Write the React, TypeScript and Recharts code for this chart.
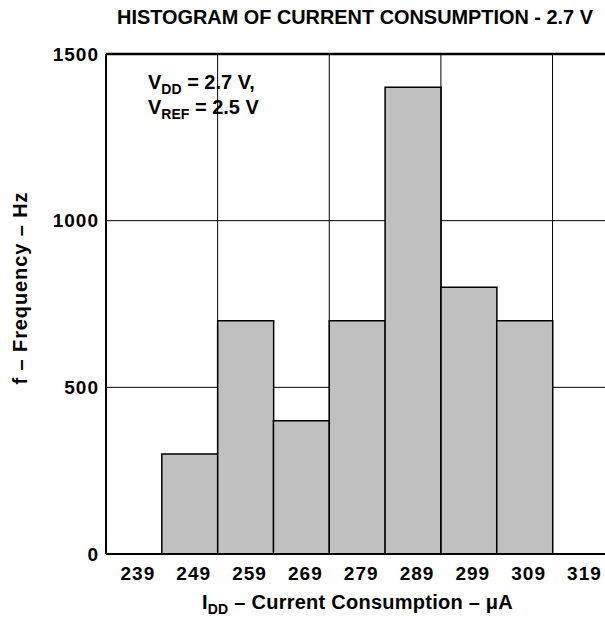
import React from 'react';
import { BarChart, Bar, XAxis, YAxis, CartesianGrid, ReferenceLine, Customized } from 'recharts';

// histogram bins (uA) and counts (Hz)
const bins = [239, 249, 259, 269, 279, 289, 299, 309, 319];
const counts = [0, 300, 700, 400, 700, 1400, 800, 700, 0];
const yTicks = [0, 500, 1000, 1500];
// vertical grid sits on every other bin edge
const gridEdges = [254, 274, 294, 314];
// right edge of the plot is cut by the page, a bit short of 324
const xDomain = [234, 323.4];

const data = bins.map((b, i) => ({ bin: b, count: counts[i] }));

const FONT = '"Liberation Sans", Arial, Helvetica, sans-serif';

const Texts = () => (
  <g fontFamily={FONT} fontWeight="bold" fill="#000">
    <text x={355} y={24} fontSize={19.9} textAnchor="middle">
      HISTOGRAM OF CURRENT CONSUMPTION - 2.7 V
    </text>
    <text x={148} y={89} fontSize={20}>
      V<tspan fontSize={14} dy={5}>DD</tspan>
      <tspan dy={-5}> = 2.7 V,</tspan>
    </text>
    <text x={148} y={114} fontSize={20}>
      V<tspan fontSize={14} dy={5}>REF</tspan>
      <tspan dy={-5}> = 2.5 V</tspan>
    </text>
    <text x={357.5} y={609} fontSize={20} letterSpacing={0.25} textAnchor="middle">
      I<tspan fontSize={14} dy={5}>DD</tspan>
      <tspan dy={-5}> – Current Consumption – μA</tspan>
    </text>
    <text
      x={27}
      y={288}
      fontSize={20}
      letterSpacing={0.9}
      textAnchor="middle"
      transform="rotate(-90 27 288)"
    >
      f – Frequency – Hz
    </text>
  </g>
);

export default function App() {
  const tickStyle = { fontFamily: FONT, fontWeight: 'bold', fontSize: 19, letterSpacing: 1, fill: '#000' };
  return (
    <div style={{ position: 'absolute', left: 0, top: 0, width: 605, height: 620, overflow: 'hidden', background: '#fff' }}>
      <BarChart
        width={605}
        height={620}
        data={data}
        barCategoryGap={0}
        margin={{ top: 54, right: 0, bottom: 36, left: 46 }}
      >
        <XAxis
          xAxisId="x"
          type="number"
          dataKey="bin"
          domain={xDomain}
          ticks={bins}
          interval={0}
          allowDataOverflow
          height={30}
          tickSize={0}
          tickMargin={13}
          tickLine={false}
          axisLine={{ stroke: '#000', strokeWidth: 2 }}
          tick={{ ...tickStyle, dx: 4 }}
        />
        <YAxis
          width={60}
          domain={[0, 1500]}
          ticks={yTicks}
          tickSize={0}
          tickMargin={7}
          tickLine={false}
          axisLine={{ stroke: '#000', strokeWidth: 2 }}
          tick={tickStyle}
        />
        <CartesianGrid xAxisId="x" vertical={false} stroke="#000" strokeWidth={1} />
        {gridEdges.map((e) => (
          <ReferenceLine key={e} xAxisId="x" x={e} stroke="#000" strokeWidth={1} />
        ))}
        <Bar
          xAxisId="x"
          dataKey="count"
          fill="#c0c0c0"
          stroke="#000"
          strokeWidth={1.5}
          isAnimationActive={false}
        />
        <ReferenceLine xAxisId="x" y={1500} stroke="#000" strokeWidth={2.5} />
        <Customized component={Texts} />
      </BarChart>
    </div>
  );
}
